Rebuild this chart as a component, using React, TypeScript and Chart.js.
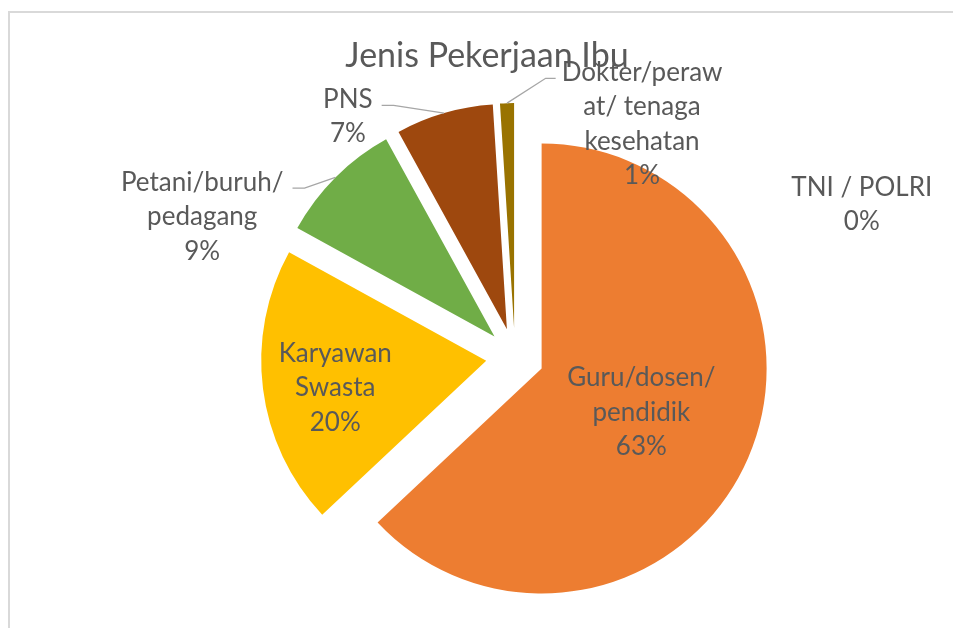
import { useEffect, useRef } from "react";
import { Chart, registerables } from "chart.js";

Chart.register(...registerables);

const title = "Jenis Pekerjaan Ibu";
const categories = [
  "Guru/dosen/pendidik",
  "Karyawan Swasta",
  "Petani/buruh/pedagang",
  "PNS",
  "Dokter/perawat/ tenaga kesehatan",
  "TNI / POLRI",
];
const values = [63, 20, 9, 7, 1, 0];
const labelLines = [
  ["Guru/dosen/", "pendidik"],
  ["Karyawan", "Swasta"],
  ["Petani/buruh/", "pedagang"],
  ["PNS"],
  ["Dokter/peraw", "at/ tenaga", "kesehatan"],
  ["TNI / POLRI"],
];
const colors = ["#ED7D31", "#FFC000", "#70AD47", "#9E480E", "#997300", "#264478"];

// label placement: angle (deg, clockwise from top) and distance in radius units from slice centre
const placement = [
  { a: 113.7, k: 0.484, leader: false },
  { a: 259.7, k: 0.682, leader: false },
  { a: 292.3, k: 1.404, leader: true },
  { a: 323.2, k: 1.18, leader: true },
  { a: 32.1, k: 1.07, leader: true },
  { a: 70.4, k: 1.636, leader: false },
];

const EXPLODE = 29;
const RADIUS = 225;
const FONT = "Lato, 'Open Sans', sans-serif";
const TEXT = "#595959";

export default function App() {
  const ref = useRef<HTMLCanvasElement | null>(null);
  useEffect(() => {
    if (!ref.current) return;
    const total = values.reduce((s, v) => s + v, 0);

    const decor = {
      id: "decor",
      beforeDraw(chart: any) {
        const ctx = chart.ctx;
        ctx.save();
        ctx.fillStyle = "#ffffff";
        ctx.fillRect(0, 0, chart.width, chart.height);
        ctx.strokeStyle = "#D9D9D9";
        ctx.lineWidth = 2;
        ctx.beginPath();
        ctx.moveTo(9, chart.height);
        ctx.lineTo(9, 12);
        ctx.lineTo(chart.width, 12);
        ctx.stroke();
        ctx.fillStyle = TEXT;
        ctx.font = `34px ${FONT}`;
        ctx.textAlign = "center";
        ctx.textBaseline = "alphabetic";
        ctx.fillText(title, 487, 67);
        ctx.restore();
      },
      beforeDatasetsDraw(chart: any) {
        // explode every slice by a pure translation along its bisector (like the original)
        const ca = chart.chartArea;
        const bx = (ca.left + ca.right) / 2;
        const by = (ca.top + ca.bottom) / 2;
        const meta = chart.getDatasetMeta(0);
        meta.data.forEach((arc: any) => {
          const mid = (arc.startAngle + arc.endAngle) / 2;
          arc.x = bx + Math.cos(mid) * EXPLODE;
          arc.y = by + Math.sin(mid) * EXPLODE;
        });
      },
      afterDatasetsDraw(chart: any) {
        const ctx = chart.ctx;
        const meta = chart.getDatasetMeta(0);
        ctx.save();
        ctx.font = `26px ${FONT}`;
        ctx.fillStyle = TEXT;
        ctx.textAlign = "center";
        ctx.textBaseline = "middle";
        const lh = 34.5;
        meta.data.forEach((arc: any, i: number) => {
          const mid = (arc.startAngle + arc.endAngle) / 2;
          const cx = arc.x;
          const cy = arc.y;
          const r = arc.outerRadius;
          const pl = placement[i];
          const th = (pl.a * Math.PI) / 180;
          const lx = cx + Math.sin(th) * pl.k * r;
          const ly = cy - Math.cos(th) * pl.k * r;
          const pct = Math.round((values[i] / total) * 100) + "%";
          const lines = [...labelLines[i], pct];
          const top = ly - ((lines.length - 1) * lh) / 2;
          let maxW = 0;
          lines.forEach((s, j) => {
            ctx.fillText(s, lx, top + j * lh);
            maxW = Math.max(maxW, ctx.measureText(s).width);
          });
          if (pl.leader) {
            const ax = cx + Math.cos(mid) * r;
            const ay = cy + Math.sin(mid) * r;
            const left = lx < ax;
            const ex = left ? lx + maxW / 2 + 9 : lx - maxW / 2 - 6;
            const ey = top + 6;
            const ex2 = left ? ex + 12 : ex - 10;
            ctx.save();
            ctx.strokeStyle = "#A6A6A6";
            ctx.lineWidth = 1.3;
            ctx.beginPath();
            ctx.moveTo(ax, ay);
            ctx.lineTo(ex2, ey);
            ctx.lineTo(ex, ey);
            ctx.stroke();
            ctx.restore();
          }
        });
        ctx.restore();
      },
    };

    const chart = new Chart(ref.current, {
      type: "pie",
      data: {
        labels: categories,
        datasets: [
          {
            data: values,
            backgroundColor: colors,
            borderWidth: 0,
            offset: 0,
            hoverOffset: 0,
          } as any,
        ],
      },
      options: {
        responsive: false,
        animation: false,
        radius: RADIUS,
        layout: { padding: { left: 77, right: 0, top: 86, bottom: 0 } },
        plugins: {
          legend: { display: false },
          title: { display: false },
          tooltip: { enabled: false },
        },
        events: [],
      } as any,
      plugins: [decor],
    });
    return () => chart.destroy();
  }, []);

  return (
    <div style={{ position: "absolute", left: 0, top: 0, width: 953, height: 628 }}>
      <canvas ref={ref} width={953} height={628} style={{ display: "block" }} />
    </div>
  );
}
